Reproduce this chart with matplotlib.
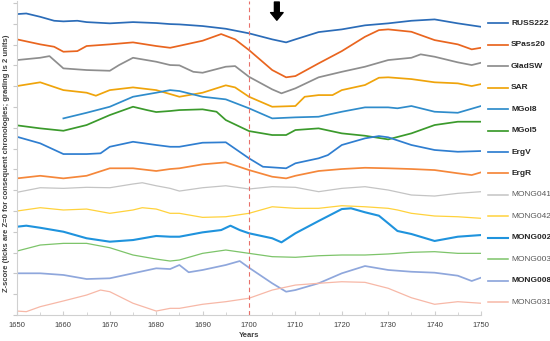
import matplotlib
matplotlib.use("Agg")
import matplotlib.pyplot as plt
from matplotlib.lines import Line2D
import numpy as np

plt.rcParams['font.family'] = ['Liberation Sans', 'DejaVu Sans']

names = ["RUSS222", "SPass20", "GladSW", "SAR", "MGol8", "MGol5", "ErgV", "ErgR",
         "MONG041", "MONG042", "MONG002", "MONG003", "MONG008", "MONG031"]
colors = ["#2b6cb8", "#e9651f", "#8e8e8e", "#efa40b", "#2f8ccb", "#3b9a2c", "#2f7ed0", "#f5873a",
          "#c4c4c4", "#ffd23c", "#1f93dd", "#7dc46a", "#8fa7dc", "#f7b8a7"]
widths = [1.25, 1.25, 1.25, 1.25, 1.25, 1.25, 1.25, 1.25, 0.9, 0.9, 1.5, 0.9, 1.25, 0.9]
bold = [True]*8 + [False, False, True, False, True, False]

# stacked Z-score values (Z + offset)
russ222_x = [1650,1652,1655,1658,1660,1663,1665,1670,1675,1680,1683,1685,1690,1695,1700,1705,1708,1710,1715,1720,1725,1730,1735,1740,1745,1750]
russ222_y = [28.94,29.0,28.68,28.30,28.24,28.30,28.17,28.05,28.17,28.08,27.98,27.95,27.79,27.53,27.09,26.51,26.22,26.51,27.21,27.47,27.86,28.05,28.30,28.43,28.05,27.72]

spass20_x = [1650,1655,1658,1660,1663,1665,1670,1675,1680,1683,1685,1690,1694,1697,1700,1705,1708,1710,1715,1720,1725,1728,1730,1735,1740,1745,1748,1750]
spass20_y = [26.51,26.03,25.80,25.32,25.38,25.87,26.03,26.22,25.87,25.70,25.89,26.38,27.02,26.51,25.48,23.56,22.86,22.98,24.20,25.38,26.76,27.40,27.47,27.24,26.44,26.03,25.55,25.70]

gladsw_x = [1650,1655,1657,1660,1665,1670,1672,1675,1680,1683,1685,1688,1690,1695,1697,1700,1705,1707,1710,1715,1720,1725,1730,1735,1737,1740,1745,1748,1750]
gladsw_y = [24.52,24.74,24.90,23.72,23.56,23.49,24.04,24.74,24.36,24.04,24.01,23.39,23.30,23.88,23.94,22.91,21.70,21.32,21.80,22.86,23.39,23.88,24.52,24.74,25.07,24.84,24.30,24.04,24.26]

sar_x = [1650,1655,1660,1665,1667,1670,1675,1680,1683,1685,1690,1695,1697,1700,1705,1710,1712,1715,1718,1720,1725,1728,1730,1735,1740,1745,1748,1750]
sar_y = [22.02,22.38,21.63,21.38,21.09,21.63,21.89,21.63,21.25,20.99,21.38,22.09,21.89,20.99,20.03,20.10,20.99,21.15,21.15,21.63,22.12,22.82,22.86,22.69,22.38,22.28,22.02,22.21]

mgol8_x = [1660,1665,1670,1675,1680,1683,1685,1690,1695,1700,1705,1710,1715,1720,1725,1730,1732,1735,1740,1745,1750]
mgol8_y = [18.91,19.45,20.03,20.99,21.38,21.63,21.54,20.99,20.74,19.88,18.91,19.01,19.07,19.55,19.97,19.97,19.88,20.10,19.55,19.45,20.10]

mgol5_x = [1650,1655,1660,1665,1670,1675,1678,1680,1683,1685,1690,1693,1695,1700,1705,1708,1710,1715,1720,1725,1730,1735,1740,1745,1750]
mgol5_y = [18.24,17.95,17.72,18.27,19.23,20.03,19.71,19.52,19.62,19.71,19.78,19.55,18.75,17.69,17.31,17.31,17.79,17.95,17.47,17.24,16.89,17.47,18.27,18.59,18.59]

ergv_x = [1650,1655,1660,1665,1668,1670,1675,1680,1683,1685,1690,1695,1700,1703,1705,1708,1710,1715,1717,1720,1725,1728,1730,1735,1740,1745,1750]
ergv_y = [17.14,16.51,15.48,15.48,15.55,16.18,16.66,16.35,16.18,16.18,16.57,16.61,15.07,14.26,14.20,14.11,14.59,15.07,15.38,16.35,16.99,17.21,17.09,16.35,15.87,15.70,15.77]

ergr_x = [1650,1655,1660,1665,1670,1675,1680,1683,1685,1690,1695,1700,1705,1708,1710,1715,1720,1725,1730,1735,1740,1745,1748,1750]
ergr_y = [13.14,13.39,13.14,13.39,14.11,14.11,13.85,14.04,14.11,14.49,14.68,13.94,13.30,13.14,13.39,13.85,14.04,14.16,14.11,14.04,13.94,13.63,13.46,13.72]

mong041_x = [1650,1655,1660,1665,1670,1675,1677,1680,1683,1685,1690,1695,1700,1705,1710,1715,1720,1725,1730,1735,1740,1745,1750]
mong041_y = [11.80,12.24,12.18,12.28,12.24,12.60,12.72,12.43,12.18,11.92,12.24,12.43,12.12,12.34,12.28,11.86,12.18,12.34,12.02,11.54,11.44,11.70,11.86]

mong042_x = [1650,1655,1660,1665,1670,1675,1677,1680,1683,1685,1690,1695,1700,1705,1710,1715,1720,1725,1730,1732,1735,1740,1745,1750]
mong042_y = [10.00,10.32,10.10,10.19,9.78,10.10,10.32,10.19,9.78,9.78,9.39,9.45,9.78,10.41,10.26,10.26,10.51,10.41,10.26,10.10,9.78,9.52,9.45,9.30]

mong002_x = [1650,1652,1655,1660,1665,1670,1675,1680,1683,1685,1690,1694,1696,1698,1700,1705,1707,1710,1715,1720,1722,1725,1728,1730,1732,1735,1740,1745,1750]
mong002_y = [8.49,8.59,8.39,8.01,7.38,7.05,7.21,7.60,7.53,7.53,7.95,8.17,8.59,8.17,7.86,7.38,6.99,7.86,9.04,10.19,10.26,9.88,9.55,8.82,8.08,7.79,7.12,7.53,7.69]

mong003_x = [1650,1655,1660,1665,1670,1675,1680,1683,1685,1690,1695,1700,1705,1710,1715,1720,1725,1730,1735,1740,1745,1750]
mong003_y = [6.15,6.73,6.89,6.89,6.47,5.77,5.38,5.19,5.29,5.93,6.25,5.93,5.61,5.55,5.70,5.77,5.77,5.87,6.03,6.09,5.93,5.93]

mong008_x = [1650,1655,1660,1665,1670,1675,1680,1683,1685,1687,1690,1695,1698,1700,1705,1708,1710,1715,1720,1725,1730,1735,1740,1745,1748,1750]
mong008_y = [4.01,4.01,3.85,3.46,3.53,4.01,4.49,4.42,4.81,4.11,4.33,4.81,5.19,4.55,3.05,2.24,2.40,3.05,4.01,4.71,4.33,4.16,4.07,3.78,3.27,3.59]

mong031_x = [1650,1652,1655,1660,1665,1668,1670,1675,1680,1683,1685,1690,1695,1700,1705,1710,1715,1720,1725,1730,1735,1740,1745,1750]
mong031_y = [0.38,0.32,0.80,1.35,1.92,2.40,2.24,1.13,0.38,0.64,0.64,1.03,1.28,1.61,2.40,2.88,3.05,3.20,3.14,2.57,1.66,1.03,1.28,1.13]

series_x = [russ222_x, spass20_x, gladsw_x, sar_x, mgol8_x, mgol5_x, ergv_x, ergr_x,
            mong041_x, mong042_x, mong002_x, mong003_x, mong008_x, mong031_x]
series_y = [russ222_y, spass20_y, gladsw_y, sar_y, mgol8_y, mgol5_y, ergv_y, ergr_y,
            mong041_y, mong042_y, mong002_y, mong003_y, mong008_y, mong031_y]

x_ticks = [1650, 1660, 1670, 1680, 1690, 1700, 1710, 1720, 1730, 1740, 1750]

fig = plt.figure(figsize=(5.5, 3.41), dpi=100)
W, H = 550, 341
ax = fig.add_axes([17/W, (H-315)/H, (481-17)/W, 314/H])

for xs, ys, c, lw in zip(series_x, series_y, colors, widths):
    ax.plot(xs, ys, color=c, lw=lw, solid_joinstyle='round')

ax.axvline(1700, color='#e8706a', lw=0.8, ls=(0, (4, 3)))

ax.set_xlim(1650, 1750)
ax.set_ylim(0, 30.2)
ax.set_xticks(x_ticks)
ax.set_xticks(np.arange(1650, 1751, 5), minor=True)
ax.set_yticks(np.arange(0, 30.1, 2))
ax.set_yticklabels([])
ax.tick_params(axis='x', labelsize=5.5, colors='#d0d0d0', labelcolor='#404040', length=3, pad=5, direction='in')
ax.tick_params(axis='x', which='minor', length=2, colors='#d0d0d0', direction='in')
ax.tick_params(axis='y', length=3, colors='#c8c8c8', direction='out')
for s in ['top', 'right']:
    ax.spines[s].set_visible(False)
for s in ['left', 'bottom']:
    ax.spines[s].set_color('#d0d0d0')
    ax.spines[s].set_linewidth(0.8)

ax.set_xlabel("Years", fontsize=5.5, fontweight='bold', color='#404040', labelpad=2)
fig.text(7/W, 1 - 163/H, "Z-score (ticks are Z=0 for consequent chronologies; grading is 2 units)",
         rotation=90, ha='center', va='center', fontsize=5.5, fontweight='bold', color='#404040')

# arrow marking the minimum
ax.annotate('', xy=(1706, 28.35), xytext=(1706, 30.1),
            arrowprops=dict(facecolor='black', edgecolor='black', width=3.5, headwidth=9, headlength=5.5))

# legend
for i, (n, c, lw, b) in enumerate(zip(names, colors, widths, bold)):
    yp = 1 - (23.3 + 21.45*i)/H
    fig.add_artist(Line2D([488/W, 508/W], [yp, yp], color=c, lw=max(lw, 1.1), transform=fig.transFigure))
    fig.text(511/W, yp, n, fontsize=6, fontweight='bold' if b else 'normal',
             color='#262626' if b else '#595959', va='center', ha='left')

fig.savefig("out.png", dpi=100)
